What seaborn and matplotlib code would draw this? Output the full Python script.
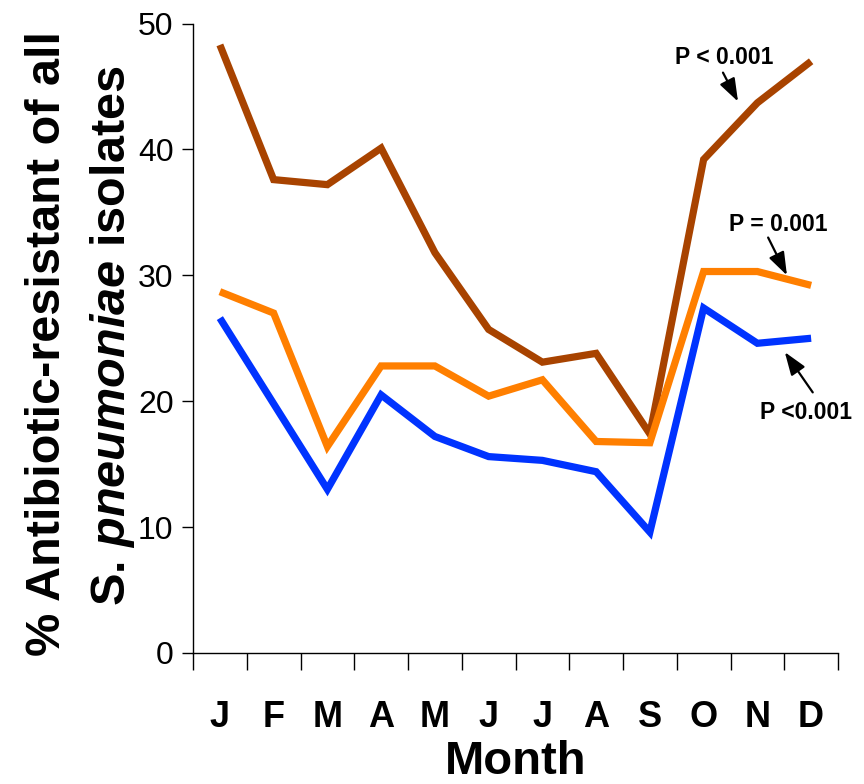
import matplotlib
matplotlib.use("Agg")
import matplotlib.pyplot as plt
import numpy as np
import pandas as pd
import seaborn as sns

# Monthly share of resistant isolates (%) for three resistance groups
months = ["J", "F", "M", "A", "M", "J", "J", "A", "S", "O", "N", "D"]
series_brown = [48.3, 37.6, 37.2, 40.1, 31.8, 25.7, 23.1, 23.8, 17.4, 39.2, 43.7, 47.0]
series_orange = [28.7, 27.0, 16.4, 22.8, 22.8, 20.4, 21.7, 16.8, 16.7, 30.3, 30.3, 29.2]
series_blue = [26.6, 19.8, 13.0, 20.5, 17.2, 15.6, 15.3, 14.4, 9.6, 27.4, 24.6, 25.0]
p_labels = ["P < 0.001", "P = 0.001", "P <0.001"]
y_ticks = [0, 10, 20, 30, 40, 50]

sns.set_theme(style="white")
plt.rcParams["font.family"] = ["Liberation Sans", "DejaVu Sans"]
plt.rcParams["mathtext.fontset"] = "custom"
plt.rcParams["mathtext.it"] = "Liberation Sans:italic:bold"
plt.rcParams["mathtext.rm"] = "Liberation Sans:bold"
for key in ["text.color", "axes.labelcolor", "xtick.color", "ytick.color"]:
    plt.rcParams[key] = "black"

df = pd.DataFrame({
    "pos": list(range(len(months))) * 3,
    "value": series_brown + series_orange + series_blue,
    "group": ["brown"] * 12 + ["orange"] * 12 + ["blue"] * 12,
})
palette = {"brown": "#A84300", "orange": "#FF7F00", "blue": "#0033FF"}

fig = plt.figure(figsize=(8.64, 7.84), dpi=100)
ax = fig.add_axes([193 / 864, 131 / 784, 645 / 864, 629.5 / 784])

sns.lineplot(data=df, x="pos", y="value", hue="group", palette=palette,
             hue_order=["brown", "orange", "blue"], linewidth=5.2, sort=False,
             legend=False, ax=ax, solid_capstyle="butt", solid_joinstyle="miter")

ax.set_xlim(-0.5, 11.5)
ax.set_ylim(0, 50)
ax.set_yticks(y_ticks)
ax.set_yticklabels([str(v) for v in y_ticks], fontsize=23)
ax.tick_params(axis="y", direction="out", length=8, width=1, color="black", pad=6,
               left=True)

# category boundaries as major ticks, month names on minor ticks
ax.set_xticks(np.arange(-0.5, 12, 1.0))
ax.set_xticklabels([])
ax.set_xticks(np.arange(12), minor=True)
ax.set_xticklabels(months, minor=True, fontsize=26, fontweight="bold")
ax.tick_params(axis="x", which="major", direction="out", length=12, width=1,
               color="black", bottom=True)
ax.tick_params(axis="x", which="minor", length=0, pad=34)

for side in ["top", "right"]:
    ax.spines[side].set_visible(False)
for side in ["left", "bottom"]:
    ax.spines[side].set_color("black")
    ax.spines[side].set_linewidth(1)

ax.set_xlabel("")
ax.set_ylabel("")
fig.text(516 / 864, 0.5 / 784, "Month", ha="center", va="bottom",
         fontsize=34, fontweight="bold")

fig.text(60 / 864, 1 - 343 / 784, "% Antibiotic-resistant of all", rotation=90,
         rotation_mode="anchor", ha="center", va="baseline",
         fontsize=35, fontweight="bold")
fig.text(125 / 864, 1 - 336 / 784, r"S. $\it{pneumoniae}$ isolates", rotation=90,
         rotation_mode="anchor", ha="center", va="baseline",
         fontsize=35, fontweight="bold")

# p-value annotations with arrows
text_pos = [(9.38, 47.3), (10.38, 34.0), (10.9, 19.1)]
arrows = [((9.36, 46.1), (9.64, 43.8)), ((10.20, 33.0), (10.55, 30.0)),
          ((11.03, 20.7), (10.51, 23.9))]
for lab, (tx, ty), (tail, tip) in zip(p_labels, text_pos, arrows):
    ax.text(tx, ty, lab, ha="center", va="center", fontsize=16.5, fontweight="bold",
            color="black", clip_on=False)
    ax.annotate("", xy=tip, xytext=tail, annotation_clip=False,
                arrowprops=dict(arrowstyle="-|>,head_length=0.7,head_width=0.25",
                                color="black", lw=1.6, shrinkA=0, shrinkB=0,
                                mutation_scale=20))

fig.savefig("out.png", dpi=100)
